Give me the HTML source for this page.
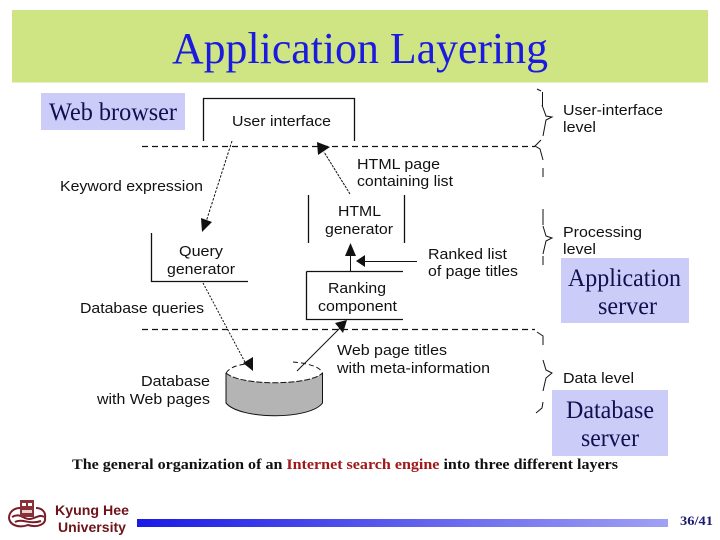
<!DOCTYPE html>
<html><head><meta charset="utf-8"><style>
html,body{margin:0;padding:0;background:#fff}
svg{display:block}
.s{font-family:"Liberation Sans",sans-serif;font-size:15px;fill:#111}
.t{font-family:"Liberation Serif",serif;fill:#101050}
</style></head><body>
<svg width="720" height="540" viewBox="0 0 720 540" xmlns="http://www.w3.org/2000/svg">
<defs><linearGradient id="g" x1="0" x2="1" y1="0" y2="0"><stop offset="0" stop-color="#1a1ae6"/><stop offset="1" stop-color="#a0a0f4"/></linearGradient></defs>
<rect width="720" height="540" fill="#fff"/>
<rect x="12" y="10" width="696" height="72.500" fill="#cfe483"/>
<text x="172" y="63" font-family="Liberation Serif,serif" font-size="44" fill="#1a1ae0" textLength="376" lengthAdjust="spacingAndGlyphs">Application Layering</text>

<!-- label boxes -->
<rect x="41" y="93" width="144" height="37" fill="#ccccf8"/>
<text class="t" x="49" y="120" font-size="25" textLength="128" lengthAdjust="spacingAndGlyphs">Web browser</text>
<rect x="561" y="258" width="128" height="65" fill="#ccccf8"/>
<text class="t" x="568" y="286" font-size="25" textLength="113" lengthAdjust="spacingAndGlyphs">Application</text>
<text class="t" x="598" y="314" font-size="25" textLength="59" lengthAdjust="spacingAndGlyphs">server</text>
<rect x="552" y="390" width="116" height="66" fill="#ccccf8"/>
<text class="t" x="566" y="418" font-size="25" textLength="88" lengthAdjust="spacingAndGlyphs">Database</text>
<text class="t" x="581" y="446" font-size="25" textLength="58" lengthAdjust="spacingAndGlyphs">server</text>

<!-- boxes -->
<g fill="none" stroke="#111" stroke-width="1.300">
<path d="M203.500 141V98.500H354.500V141"/>
<path d="M308.500 195V243M404.500 195V243"/>
<path d="M151.500 233V281.500H248"/>
<path d="M306.500 271.500H403M306.500 271.500V319.500H403"/>
</g>
<!-- dashed level lines -->
<g stroke="#111" stroke-width="1.200" stroke-dasharray="6 4" fill="none">
<path d="M142 146.500H535"/>
<path d="M142 329.500H535"/>
</g>
<!-- cylinder -->
<path d="M226 373C240 386 310 386 322.500 373V403C310 420 240 420 226 403Z" fill="#b4b4b4"/>
<path d="M226 373V403C240 420 310 420 322.500 403V373" fill="none" stroke="#111" stroke-width="1"/>
<path d="M226 373C240 386 310 386 322.500 373" fill="none" stroke="#111" stroke-width="1" stroke-dasharray="6 2"/>
<path d="M226 373C230 367 238 365 246 364M293 362C305 363 320 366 322.500 373" fill="none" stroke="#111" stroke-width="1" stroke-dasharray="5 3"/>

<!-- arrows -->
<g fill="none" stroke="#111" stroke-width="1">
<path d="M232 141L206 222" stroke-dasharray="2.500 1.500"/>
<path d="M350 194L324 152" stroke-dasharray="2.500 1"/>
<path d="M203 283L246 364" stroke-dasharray="2 1.500"/>
<path d="M297 371L341 327"/>
<path d="M350.500 271V250"/>
<path d="M417 261.500H360"/>
</g>
<g fill="#111">
<polygon points="202,232 201,218 212,222"/>
<polygon points="317,142 330,147 318,155"/>
<polygon points="253,371 243,363 253,357"/>
<polygon points="347,320 343,333 335,323"/>
<polygon points="350.500,243 345,256 356,256"/>
<polygon points="356,261 365,255 365,267"/>
</g>

<!-- braces -->
<g fill="none" stroke="#111" stroke-width="1">
<path d="M537 89L541 91M542.500 92V106M542 105L546 116L552 117L546 120L543 136M541 140L535 146L540 149L543 160M543 168V177"/>
<path d="M543 209V225M543 226L546 236L552 238L546 241L543 254M543 256V265"/>
<path d="M537 332L543 336V345M543 360L546 370L552 373L546 378L543 391M543 402L542 408L536 413"/>
</g>

<!-- diagram labels -->
<g class="s">
<text class="s" x="232" y="126" textLength="99" lengthAdjust="spacingAndGlyphs">User interface</text>
<text class="s" x="563" y="115" textLength="100" lengthAdjust="spacingAndGlyphs">User-interface</text>
<text class="s" x="563" y="132" textLength="33" lengthAdjust="spacingAndGlyphs">level</text>
<text class="s" x="357" y="169" textLength="83" lengthAdjust="spacingAndGlyphs">HTML page</text>
<text class="s" x="357" y="186" textLength="96" lengthAdjust="spacingAndGlyphs">containing list</text>
<text class="s" x="60" y="191" textLength="143" lengthAdjust="spacingAndGlyphs">Keyword expression</text>
<text class="s" x="338" y="216" textLength="43" lengthAdjust="spacingAndGlyphs">HTML</text>
<text class="s" x="325" y="234" textLength="68" lengthAdjust="spacingAndGlyphs">generator</text>
<text class="s" x="563" y="237" textLength="79" lengthAdjust="spacingAndGlyphs">Processing</text>
<text class="s" x="563" y="254" textLength="33" lengthAdjust="spacingAndGlyphs">level</text>
<text class="s" x="179" y="256" textLength="44" lengthAdjust="spacingAndGlyphs">Query</text>
<text class="s" x="167" y="274" textLength="68" lengthAdjust="spacingAndGlyphs">generator</text>
<text class="s" x="428" y="259" textLength="79" lengthAdjust="spacingAndGlyphs">Ranked list</text>
<text class="s" x="428" y="276" textLength="90" lengthAdjust="spacingAndGlyphs">of page titles</text>
<text class="s" x="328" y="293" textLength="58" lengthAdjust="spacingAndGlyphs">Ranking</text>
<text class="s" x="318" y="311" textLength="79" lengthAdjust="spacingAndGlyphs">component</text>
<text class="s" x="80" y="313" textLength="124" lengthAdjust="spacingAndGlyphs">Database queries</text>
<text class="s" x="337" y="355" textLength="110" lengthAdjust="spacingAndGlyphs">Web page titles</text>
<text class="s" x="337" y="373" textLength="153" lengthAdjust="spacingAndGlyphs">with meta-information</text>
<text class="s" x="563" y="383" textLength="71" lengthAdjust="spacingAndGlyphs">Data level</text>
<text class="s" x="141" y="386" textLength="69" lengthAdjust="spacingAndGlyphs">Database</text>
<text class="s" x="97" y="404" textLength="113" lengthAdjust="spacingAndGlyphs">with Web pages</text>
</g>

<!-- caption -->
<text x="72" y="469" font-family="Liberation Serif,serif" font-size="15" font-weight="bold" fill="#111" textLength="546" lengthAdjust="spacingAndGlyphs">The general organization of an <tspan fill="#a01818">Internet search engine</tspan> into three different layers</text>

<!-- footer -->
<g fill="none" stroke="#7a1c28" stroke-width="2">
<path d="M9 518C9 512 14 508 20 508M36 508C42 508 46 512 45 518 46 524 38 528 28 525 20 528 10 526 9 518"/>
<path d="M12 517C20 512 24 520 30 519 36 518 40 514 44 517"/>
<path d="M15 522C22 518 30 525 41 521"/>
</g>
<rect x="20" y="500" width="14" height="17" fill="#8a3038"/>
<rect x="22" y="503" width="4" height="3" fill="#fff"/><rect x="28" y="503" width="4" height="3" fill="#fff"/>
<rect x="22" y="510" width="10" height="3" fill="#e8d0d0"/>
<text x="55" y="515" font-family="Liberation Sans,sans-serif" font-size="13.500" font-weight="bold" fill="#6e1418" textLength="74" lengthAdjust="spacingAndGlyphs">Kyung Hee</text>
<text x="58" y="532" font-family="Liberation Sans,sans-serif" font-size="13.500" font-weight="bold" fill="#6e1418" textLength="68" lengthAdjust="spacingAndGlyphs">University</text>
<rect x="137" y="519" width="531" height="8" fill="url(#g)"/>
<text x="680" y="525" font-family="Liberation Serif,serif" font-size="13" font-weight="bold" fill="#1a1a70" textLength="33" lengthAdjust="spacingAndGlyphs">36/41</text>
</svg>
</body></html>
